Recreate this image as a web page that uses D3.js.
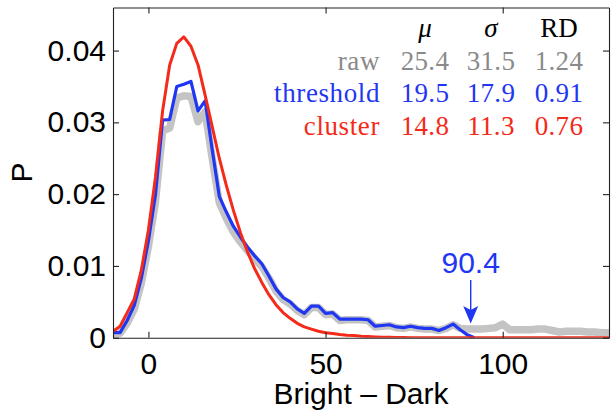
<!DOCTYPE html>
<html>
<head>
<meta charset="utf-8">
<script src="https://cdn.jsdelivr.net/npm/d3@7"></script>
<style>
  html, body { margin: 0; padding: 0; background: #fff; }
  svg { display: block; }
</style>
</head>
<body>
<svg id="chart" width="616" height="418"></svg>
<script>
// ---------------- data ----------------
const binX = d3.range(-10, 131, 2); // bin centres (Bright − Dark)

const rawP = [
  0.0005, 0.0006, 0.0020, 0.0040, 0.0076, 0.0127, 0.0190, 0.0288, 0.0292, 0.0334,
  0.0337, 0.0336, 0.0301, 0.0315, 0.0250, 0.0188, 0.0166, 0.0147, 0.0133, 0.0121,
  0.0110, 0.0099, 0.0083, 0.0065, 0.0053, 0.0047, 0.0038, 0.0032, 0.0042, 0.0042,
  0.0032, 0.0033, 0.0024, 0.0025, 0.0025, 0.0025, 0.0024, 0.0015, 0.0016, 0.0017,
  0.0014, 0.0013, 0.0015, 0.0013, 0.0012, 0.0012, 0.0010, 0.0013, 0.0018, 0.0013,
  0.0012, 0.0012, 0.0012, 0.0013, 0.0014, 0.0019, 0.0011, 0.0011, 0.0011, 0.0011,
  0.0012, 0.0012, 0.0010, 0.0008, 0.0009, 0.0009, 0.0009, 0.0008, 0.0008, 0.0007,
  0.0007
];

const thresholdP = [
  0.0007, 0.0007, 0.0024, 0.0045, 0.0083, 0.0135, 0.0200, 0.0303, 0.0304, 0.0350,
  0.0353, 0.0357, 0.0316, 0.0330, 0.0262, 0.0197, 0.0175, 0.0155, 0.0140, 0.0126,
  0.0114, 0.0103, 0.0086, 0.0068, 0.0056, 0.0050, 0.0040, 0.0034, 0.0044, 0.0044,
  0.0034, 0.0035, 0.0026, 0.0026, 0.0026, 0.0026, 0.0025, 0.0016, 0.0017, 0.0018,
  0.0015, 0.0014, 0.0016, 0.0014, 0.0013, 0.0013, 0.0010, 0.0014, 0.0019, 0.0011,
  0.0004, 0.0000, null, null, null, null, null, null, null, null,
  null, null, null, null, null, null, null, null, null, null,
  null
];

const clusterP = [
  0.0009, 0.0016, 0.0035, 0.0054, 0.0094, 0.0150, 0.0224, 0.0316, 0.0380, 0.0410,
  0.0419, 0.0406, 0.0380, 0.0338, 0.0294, 0.0250, 0.0212, 0.0177, 0.0146, 0.0119,
  0.0096, 0.0077, 0.0060, 0.0046, 0.0035, 0.0027, 0.0020, 0.0015, 0.0012, 0.0009,
  0.0007, 0.0006, 0.00045, 0.00035, 0.0003, 0.0002, 0.00015, 0.0001, 0.00007, 0.00005,
  0.00003, 0.00002, 0, 0, 0, 0, 0, 0, 0, 0,
  0, 0, 0, 0, 0, 0, 0, 0, 0, 0,
  0, 0, 0, 0, 0, 0, 0, 0, 0, 0,
  0
];

const xTicks = [0, 50, 100];
const yTicks = [0, 0.01, 0.02, 0.03, 0.04];

const statHeaders = ["μ", "σ", "RD"];
const statNames = ["raw", "threshold", "cluster"];
const statMu = ["25.4", "19.5", "14.8"];
const statSigma = ["31.5", "17.9", "11.3"];
const statRD = ["1.24", "0.91", "0.76"];

const annotValue = 90.4;
const annotLabel = "90.4";

// ---------------- styles ----------------
const colGray = "#c4c4c4", colGrayText = "#8a8a8a";
const colBlue = "#1f36f2", colRed = "#f42a1a";
const sans = "'Liberation Sans', Arial, Helvetica, sans-serif";
const serif = "'Liberation Serif', 'Times New Roman', serif";

// ---------------- layout ----------------
const svg = d3.select("#chart");
const L = 113, R = 609, T = 7.5, B = 337.7;

const x = d3.scaleLinear().domain([-10, 130]).range([L, R]);
const y = d3.scaleLinear().domain([0, 0.046]).range([B, T]);

svg.append("defs").append("clipPath").attr("id", "clip")
  .append("rect").attr("x", L).attr("y", T).attr("width", R - L).attr("height", B - T);

const plot = svg.append("g").attr("clip-path", "url(#clip)");

function series(vals) {
  return binX.map((v, i) => ({ x: v, p: vals[i] }));
}
const line = d3.line()
  .defined(d => d.p !== null && d.p !== undefined)
  .x(d => x(d.x)).y(d => y(d.p));

plot.append("path").datum(series(rawP)).attr("d", line)
  .attr("fill", "none").attr("stroke", colGray).attr("stroke-width", 7.5)
  .attr("stroke-linejoin", "round").attr("stroke-linecap", "round");
plot.append("path").datum(series(thresholdP)).attr("d", line)
  .attr("fill", "none").attr("stroke", colBlue).attr("stroke-width", 3.2)
  .attr("stroke-linejoin", "round");
plot.append("path").datum(series(clusterP)).attr("d", line)
  .attr("fill", "none").attr("stroke", colRed).attr("stroke-width", 3)
  .attr("stroke-linejoin", "round");

// ---------------- axes ----------------
const axisColor = "#222";
function styleAxis(g) {
  g.selectAll(".domain").attr("stroke", axisColor).attr("stroke-width", 1.1);
  g.selectAll(".tick line").attr("stroke", axisColor).attr("stroke-width", 1.1);
  g.selectAll("text").attr("font-family", sans).attr("font-size", 30).attr("fill", "#000");
}

svg.append("g").attr("transform", `translate(0,${B})`)
  .call(d3.axisBottom(x).tickValues(xTicks).tickSizeInner(-6).tickSizeOuter(0).tickPadding(15).tickFormat(d3.format("d")))
  .call(styleAxis);
svg.append("g").attr("transform", `translate(0,${T})`)
  .call(d3.axisTop(x).tickValues(xTicks).tickSizeInner(-6).tickSizeOuter(0).tickFormat(""))
  .call(styleAxis);
svg.append("g").attr("transform", `translate(${L},0)`)
  .call(d3.axisLeft(y).tickValues(yTicks).tickSizeInner(-6).tickSizeOuter(0).tickPadding(7).tickFormat(d => d === 0 ? "0" : d3.format(".2f")(d)))
  .call(styleAxis);
svg.append("g").attr("transform", `translate(${R},0)`)
  .call(d3.axisRight(y).tickValues(yTicks).tickSizeInner(-6).tickSizeOuter(0).tickFormat(""))
  .call(styleAxis);

// axis labels
svg.append("text").attr("x", (L + R) / 2).attr("y", 404)
  .attr("text-anchor", "middle").attr("font-family", sans).attr("font-size", 30)
  .text("Bright – Dark");
svg.append("text").attr("transform", `translate(31.5,${(T + B) / 2}) rotate(-90)`)
  .attr("text-anchor", "middle").attr("font-family", sans).attr("font-size", 30)
  .text("P");

// ---------------- annotation ----------------
const ax = x(annotValue) + 2;
svg.append("text").attr("x", ax).attr("y", 272.5).attr("text-anchor", "middle")
  .attr("font-family", sans).attr("font-size", 30).attr("fill", colBlue).text(annotLabel);
svg.append("line").attr("x1", ax).attr("x2", ax).attr("y1", 280).attr("y2", 310)
  .attr("stroke", colBlue).attr("stroke-width", 1.4);
svg.append("path")
  .attr("d", `M${ax - 7.5},306 L${ax},323.5 L${ax + 7.5},306 L${ax},310 Z`)
  .attr("fill", colBlue);

// ---------------- stats table ----------------
const colX = [425, 491, 559];
const labelRight = 380;
const headY = 37, rowY = [69.5, 102, 135];
const rowColors = [colGrayText, colBlue, colRed];

statHeaders.forEach((h, i) => {
  svg.append("text").attr("x", colX[i]).attr("y", headY).attr("text-anchor", "middle")
    .attr("font-family", serif).attr("font-size", 27)
    .attr("font-style", i < 2 ? "italic" : "normal").attr("fill", "#000").text(h);
});
statNames.forEach((n, r) => {
  const g = svg.append("g").attr("font-family", serif).attr("font-size", 27).attr("fill", rowColors[r]);
  g.append("text").attr("x", labelRight).attr("y", rowY[r]).attr("text-anchor", "end")
    .attr("letter-spacing", 0.6).text(n);
  [statMu[r], statSigma[r], statRD[r]].forEach((v, c) => {
    g.append("text").attr("x", colX[c]).attr("y", rowY[r]).attr("text-anchor", "middle")
      .attr("letter-spacing", 0.3).text(v);
  });
});
</script>
</body>
</html>
